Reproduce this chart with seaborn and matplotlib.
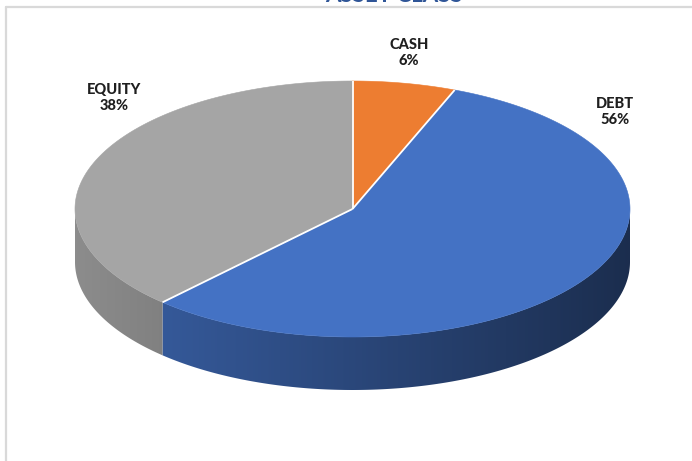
import numpy as np
import matplotlib
matplotlib.use("Agg")
import matplotlib.pyplot as plt
from matplotlib.patches import Polygon
import seaborn as sns

# Asset allocation
categories = ["CASH", "DEBT", "EQUITY"]
shares = [6, 56, 38]
slice_colors = ["#ED7D31", "#4472C4", "#A5A5A5"]
title_text = "ASSET CLASS"

sns.set_theme(style="white")
plt.rcParams["font.family"] = ["Lato", "DejaVu Sans"]
palette = sns.color_palette(slice_colors)

W, H = 692, 461
fig = plt.figure(figsize=(W / 100, H / 100), dpi=100)
ax = fig.add_axes([0, 0, 1, 1])
ax.set_xlim(0, W)
ax.set_ylim(H, 0)
ax.axis("off")

# Geometry of the tilted disc (pixel units)
cx, cy = 352.5, 209.0
rx, ry = 277.5, 128.0
depth = 53.0


def rim(theta_deg):
    """Point on the top ellipse, angle measured clockwise from 12 o'clock."""
    t = np.radians(theta_deg)
    return cx + rx * np.sin(t), cy - ry * np.cos(t)


def shade_factor(x):
    """Side wall gets darker from left to right."""
    return 0.85 - 0.45 * (x - (cx - rx)) / (2 * rx)


total = float(sum(shares))
bounds = np.concatenate([[0.0], np.cumsum(shares)]) / total * 360.0

# Side wall (front half only, 90..270 degrees), filled with a horizontal gradient
xs = np.linspace(cx - rx, cx + rx, 600)
for i, col in enumerate(palette):
    a0, a1 = max(bounds[i], 90.0), min(bounds[i + 1], 270.0)
    if a1 <= a0:
        continue
    arc = np.linspace(a0, a1, 200)
    upper = [rim(a) for a in arc]
    lower = [(x, y + depth) for x, y in upper[::-1]]
    wall = Polygon(upper + lower, closed=True, facecolor="none", edgecolor="none")
    ax.add_patch(wall)
    grad = np.clip(np.outer(shade_factor(xs), np.array(col)), 0, 1)[None, :, :]
    im = ax.imshow(grad, extent=(cx - rx, cx + rx, cy + ry + depth + 2, cy - 2),
                   aspect="auto", interpolation="bilinear", zorder=1)
    im.set_clip_path(wall)

# Top face
for i, col in enumerate(palette):
    arc = np.linspace(bounds[i], bounds[i + 1], max(int(bounds[i + 1] - bounds[i]) * 2, 4))
    pts = [(cx, cy)] + [rim(a) for a in arc]
    ax.add_patch(Polygon(pts, closed=True, facecolor=col, edgecolor=col, lw=0.4, zorder=2))

# White separators between slices on the top face
for b in bounds[:-1]:
    x, y = rim(b)
    ax.plot([cx, x], [cy, y], color="white", lw=1.3, solid_capstyle="butt", zorder=3)

# Data labels
label_pos = {"CASH": (409, 53), "DEBT": (615, 112), "EQUITY": (114, 98)}
for name, val in zip(categories, shares):
    lx, ly = label_pos[name]
    ax.text(lx, ly, f"{name}\n{val}%", ha="center", va="center", fontsize=10.5,
            fontweight="black", color="#1F1F1F", linespacing=1.15, zorder=4)

# Chart title
ax.text(394, 2.5, title_text, ha="center", va="baseline", fontsize=16,
        color="#2F5597", fontweight="bold", zorder=4)

# Chart area border
ax.plot([5.5, 5.5], [7.5, H], color="#D9D9D9", lw=1.6, zorder=4)
ax.plot([5.5, W], [7.5, 7.5], color="#D9D9D9", lw=1.6, zorder=4)

fig.savefig("out.png", dpi=100, facecolor="white")
